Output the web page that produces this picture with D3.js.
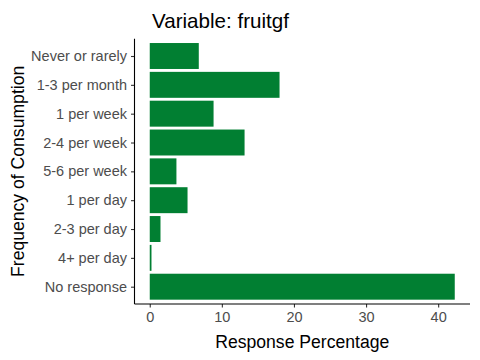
<!DOCTYPE html>
<html><head><meta charset="utf-8">
<script src="https://cdn.jsdelivr.net/npm/d3@7"></script>
<style>body{margin:0;background:#fff;} svg{display:block;font-family:"Liberation Sans",Arial,sans-serif;}</style>
</head><body>
<script>
const categories = ["Never or rarely","1-3 per month","1 per week","2-4 per week","5-6 per week","1 per day","2-3 per day","4+ per day","No response"];
const values = [6.8, 18.0, 8.85, 13.15, 3.7, 5.24, 1.49, 0.24, 42.3];
const xTicks = [0, 10, 20, 30, 40];

(function(){
const W = 480, H = 360;
const pL = 134.5, pR = 470, pT = 38.7, pB = 304;
const svg = d3.select("body").append("svg").attr("width", W).attr("height", H);

const maxV = d3.max(values);
const x = d3.scaleLinear().domain([-0.05*maxV, maxV*1.05]).range([pL, pR]);
const step = (pB - pT) / (categories.length - 1 + 1.2);
const y = d3.scalePoint().domain(categories).range([pT + 0.6*step, pB - 0.6*step]);
const bw = 0.9 * step;

svg.append("g").selectAll("rect").data(categories).join("rect")
  .attr("x", x(0)).attr("y", d => y(d) - bw/2)
  .attr("width", (d,i) => x(values[i]) - x(0)).attr("height", bw)
  .attr("fill", "#017f32");

const xa = svg.append("g").attr("transform", `translate(0,${pB})`)
  .call(d3.axisBottom(x).tickValues(xTicks).tickSize(3.5).tickPadding(4).tickSizeOuter(0));
const ya = svg.append("g").attr("transform", `translate(${pL},0)`)
  .call(d3.axisLeft(y).tickSize(3.5).tickPadding(4).tickSizeOuter(0));
[xa, ya].forEach(a => {
  a.select(".domain").remove();
  a.selectAll(".tick line").attr("stroke", "#333").attr("stroke-width", 1.1);
  a.selectAll(".tick text").attr("fill", "#4d4d4d").style("font-size", "14.5px").style("font-family", "Liberation Sans, Arial, sans-serif");
});
svg.append("line").attr("x1", pL).attr("x2", pR).attr("y1", pB).attr("y2", pB).attr("stroke", "#000").attr("stroke-width", 1.1);
svg.append("line").attr("x1", pL).attr("x2", pL).attr("y1", pT).attr("y2", pB).attr("stroke", "#000").attr("stroke-width", 1.1);

svg.append("text").attr("x", 152).attr("y", 28).text("Variable: fruitgf")
  .style("font-size", "20.6px").attr("fill", "#000");
svg.append("text").attr("x", (pL + pR)/2).attr("y", 348).attr("text-anchor", "middle")
  .text("Response Percentage").style("font-size", "17.6px").attr("fill", "#000");
svg.append("text").attr("transform", `translate(24,${(pT+pB)/2}) rotate(-90)`).attr("text-anchor", "middle")
  .text("Frequency of Consumption").style("font-size", "17.6px").attr("fill", "#000");
})();
</script>
</body></html>
